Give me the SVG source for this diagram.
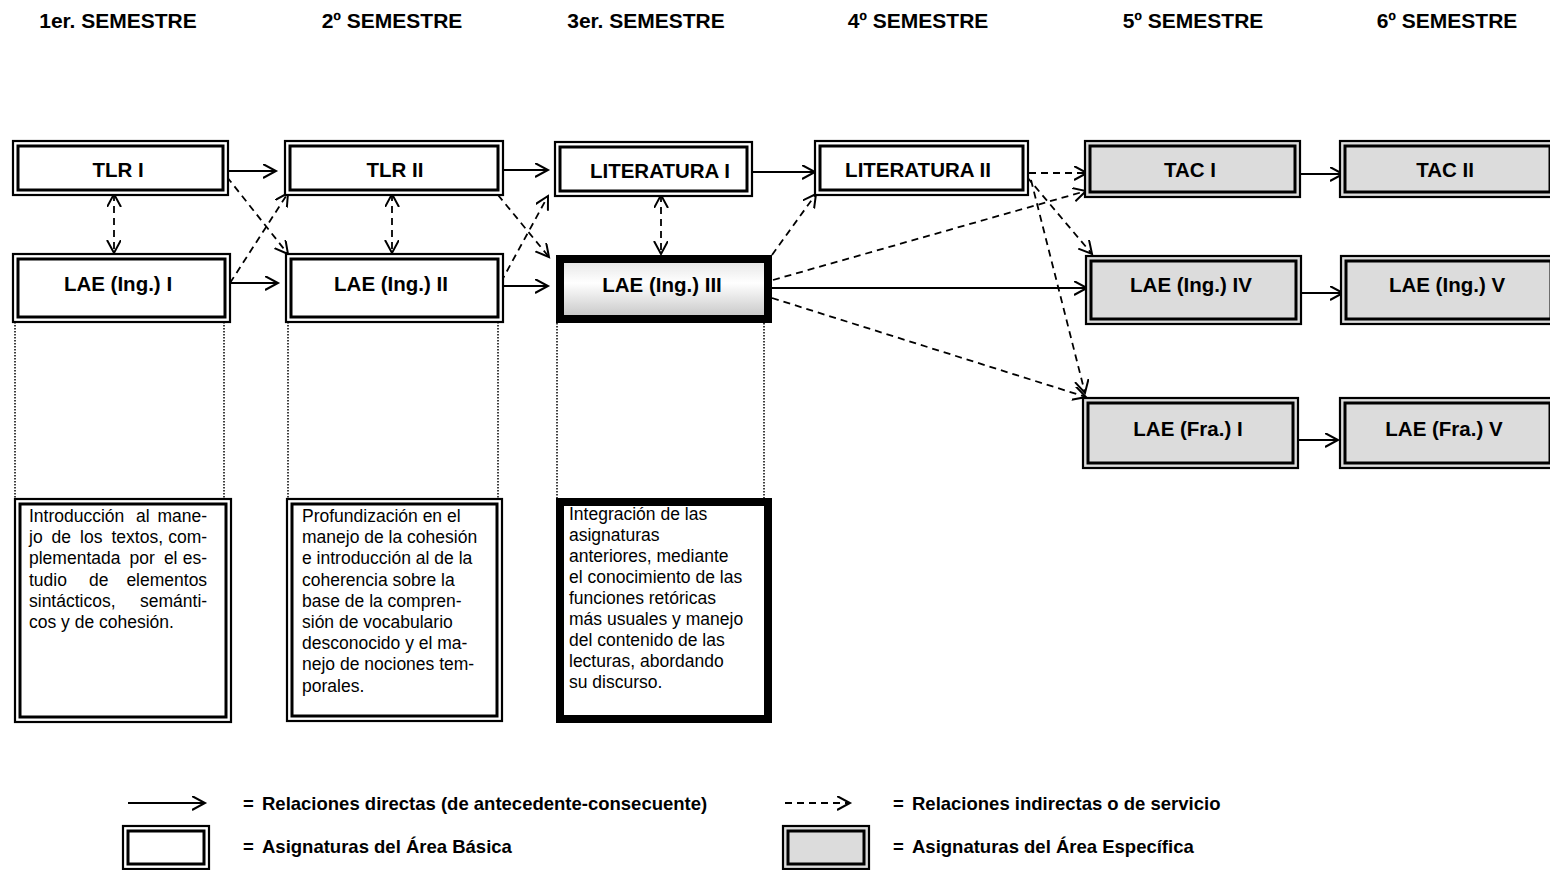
<svg xmlns="http://www.w3.org/2000/svg" width="1550" height="870" viewBox="0 0 1550 870">
<style>
.hdr{font-family:"Liberation Sans",Arial,sans-serif;font-weight:bold;font-size:21px;fill:#000;text-anchor:middle}
.lbl{font-family:"Liberation Sans",Arial,sans-serif;font-weight:bold;font-size:20.5px;fill:#000;text-anchor:middle}
.body{font-family:"Liberation Sans",Arial,sans-serif;font-size:17.5px;fill:#000}
.leg{font-family:"Liberation Sans",Arial,sans-serif;font-weight:bold;font-size:18.5px;fill:#000}
.o{fill:#fff;stroke:#000;stroke-width:2.2}
.og{fill:#dcdcdc;stroke:#000;stroke-width:2.2}
.i{fill:none;stroke:#000;stroke-width:3}
.thick{stroke:#000;stroke-width:8}
.sol{fill:none;stroke:#000;stroke-width:1.8;marker-end:url(#ah)}
.das{fill:none;stroke:#000;stroke-width:1.8;stroke-dasharray:7 5;marker-end:url(#ah)}
.bi{fill:none;stroke:#000;stroke-width:1.8;stroke-dasharray:7 5;marker-end:url(#ah);marker-start:url(#ah)}
.dot{fill:none;stroke:#000;stroke-width:1.5;stroke-dasharray:1.5 1.5}
.e{text-anchor:end}
</style>
<defs>
<marker id="ah" markerUnits="userSpaceOnUse" markerWidth="16" markerHeight="16" refX="13" refY="7" orient="auto-start-reverse" viewBox="0 0 16 16">
<path d="M0,0 L13,7 L0,14" fill="none" stroke="#000" stroke-width="2"/>
</marker>
<linearGradient id="gr" x1="0" y1="0" x2="0" y2="1">
<stop offset="0" stop-color="#e4e4e4"/>
<stop offset="0.4" stop-color="#ffffff"/>
<stop offset="1" stop-color="#c4c4c4"/>
</linearGradient>
</defs>
<rect width="1550" height="870" fill="#fff"/>

<g id="headers">
<text class="hdr" x="118" y="28">1er. SEMESTRE</text>
<text class="hdr" x="392" y="28">2º SEMESTRE</text>
<text class="hdr" x="646" y="28">3er. SEMESTRE</text>
<text class="hdr" x="918" y="28">4º SEMESTRE</text>
<text class="hdr" x="1193" y="28">5º SEMESTRE</text>
<text class="hdr" x="1447" y="28">6º SEMESTRE</text>
</g>

<g id="connectors">
<path class="sol" d="M228,171 L276,171"/>
<path class="sol" d="M231,283 L278,283"/>
<path class="sol" d="M503,170 L548,170"/>
<path class="sol" d="M503,286 L548,286"/>
<path class="sol" d="M752,172 L815,172"/>
<path class="sol" d="M772,288 L1087,288"/>
<path class="sol" d="M1300,174 L1343,174"/>
<path class="sol" d="M1301,293 L1343,293"/>
<path class="sol" d="M1298,440 L1338,440"/>
<path class="bi" d="M114,194 L114,253"/>
<path class="bi" d="M392,194 L392,253"/>
<path class="bi" d="M661,195 L661,254"/>
<path class="das" d="M227,177 L288,254"/>
<path class="das" d="M230,283 L288,193"/>
<path class="das" d="M498,195 L549,257"/>
<path class="das" d="M501,282 L548,196"/>
<path class="das" d="M772,255 L816,194"/>
<path class="das" d="M1029,173 L1087,173"/>
<path class="das" d="M773,280 L1086,191"/>
<path class="das" d="M1027,177 L1092,254"/>
<path class="das" d="M1031,180 L1085,393"/>
<path class="das" d="M772,298 L1086,397"/>
</g>

<g id="tlr1"><rect class="o" x="13" y="141" width="215" height="54"/><rect class="i" x="18" y="146" width="205" height="44"/><text class="lbl" x="118" y="177">TLR I</text></g>
<g id="tlr2"><rect class="o" x="285" y="141" width="218" height="54"/><rect class="i" x="290" y="146" width="208" height="44"/><text class="lbl" x="395" y="177">TLR II</text></g>
<g id="lit1"><rect class="o" x="555" y="142" width="197" height="54"/><rect class="i" x="560" y="147" width="187" height="44"/><text class="lbl" x="660" y="178">LITERATURA I</text></g>
<g id="lit2"><rect class="o" x="815" y="141" width="213" height="54"/><rect class="i" x="820" y="146" width="203" height="44"/><text class="lbl" x="918" y="177">LITERATURA II</text></g>
<g id="tac1"><rect class="og" x="1085" y="141" width="215" height="56"/><rect class="i" x="1090" y="146" width="205" height="46"/><text class="lbl" x="1190" y="177">TAC I</text></g>
<g id="tac2"><rect class="og" x="1340" y="141" width="215" height="56"/><rect class="i" x="1345" y="146" width="205" height="46"/><text class="lbl" x="1445" y="177">TAC II</text></g>

<g id="lae1"><rect class="o" x="13" y="254" width="217" height="68"/><rect class="i" x="18" y="259" width="207" height="58"/><text class="lbl" x="118" y="291">LAE (Ing.) I</text></g>
<g id="lae2"><rect class="o" x="286" y="254" width="217" height="68"/><rect class="i" x="291" y="259" width="207" height="58"/><text class="lbl" x="391" y="291">LAE (Ing.) II</text></g>
<g id="lae3"><rect x="560" y="259" width="208" height="60" fill="url(#gr)" class="thick"/><text class="lbl" x="662" y="292">LAE (Ing.) III</text></g>
<g id="lae4"><rect class="og" x="1086" y="256" width="215" height="68"/><rect class="i" x="1091" y="261" width="205" height="58"/><text class="lbl" x="1191" y="292">LAE (Ing.) IV</text></g>
<g id="lae5"><rect class="og" x="1341" y="256" width="215" height="68"/><rect class="i" x="1346" y="261" width="205" height="58"/><text class="lbl" x="1447" y="292">LAE (Ing.) V</text></g>
<g id="fra1"><rect class="og" x="1083" y="398" width="215" height="70"/><rect class="i" x="1088" y="403" width="205" height="60"/><text class="lbl" x="1188" y="436">LAE (Fra.) I</text></g>
<g id="fra5"><rect class="og" x="1340" y="398" width="215" height="70"/><rect class="i" x="1345" y="403" width="205" height="60"/><text class="lbl" x="1444" y="436">LAE (Fra.) V</text></g>

<g id="dotted">
<path class="dot" d="M15,322 V499 M224,322 V499 M288,322 V499 M498,322 V499 M557,323 V499 M764,323 V499"/>
</g>

<g id="desc1">
<rect class="o" x="15" y="499" width="216" height="223"/><rect class="i" x="20" y="504" width="206" height="213"/>
<text class="body">
<tspan x="29" y="522">Introducción</tspan><tspan x="136" y="522">al</tspan><tspan class="e" x="212" y="522">mane-</tspan>
<tspan x="29" y="543.2">jo</tspan><tspan x="51.6" y="543.2">de</tspan><tspan x="80.1" y="543.2">los</tspan><tspan x="111.5" y="543.2">textos,</tspan><tspan class="e" x="212" y="543.2">com-</tspan>
<tspan x="29" y="564.4">plementada</tspan><tspan x="129.5" y="564.4">por</tspan><tspan x="163.9" y="564.4">el</tspan><tspan class="e" x="212" y="564.4">es-</tspan>
<tspan x="29" y="585.6">tudio</tspan><tspan x="89" y="585.6">de</tspan><tspan class="e" x="212" y="585.6">elementos</tspan>
<tspan x="29" y="606.8">sintácticos,</tspan><tspan class="e" x="212" y="606.8">semánti-</tspan>
<tspan x="29" y="628">cos y de cohesión.</tspan>
</text>
</g>
<g id="desc2">
<rect class="o" x="287" y="499" width="215" height="222"/><rect class="i" x="292" y="504" width="205" height="212"/>
<text class="body">
<tspan x="302" y="522">Profundización en el</tspan>
<tspan x="302" y="543.2">manejo de la cohesión</tspan>
<tspan x="302" y="564.4">e introducción al de la</tspan>
<tspan x="302" y="585.6">coherencia sobre la</tspan>
<tspan x="302" y="606.8">base de la compren-</tspan>
<tspan x="302" y="628">sión de vocabulario</tspan>
<tspan x="302" y="649.2">desconocido y el ma-</tspan>
<tspan x="302" y="670.4">nejo de nociones tem-</tspan>
<tspan x="302" y="691.6">porales.</tspan>
</text>
</g>
<g id="desc3">
<rect x="560" y="502" width="208" height="217" fill="#fff" class="thick"/>
<text class="body">
<tspan x="569" y="520">Integración de las</tspan>
<tspan x="569" y="541">asignaturas</tspan>
<tspan x="569" y="562">anteriores, mediante</tspan>
<tspan x="569" y="583">el conocimiento de las</tspan>
<tspan x="569" y="604">funciones retóricas</tspan>
<tspan x="569" y="625">más usuales y manejo</tspan>
<tspan x="569" y="646">del contenido de las</tspan>
<tspan x="569" y="667">lecturas, abordando</tspan>
<tspan x="569" y="688">su discurso.</tspan>
</text>
</g>

<g id="legend">
<path class="sol" d="M128,803 L205,803"/>
<text class="leg" x="243" y="810">=</text><text class="leg" x="262" y="810">Relaciones directas (de antecedente-consecuente)</text>
<path class="das" d="M785,803 L850,803"/>
<text class="leg" x="893" y="810">=</text><text class="leg" x="912" y="810">Relaciones indirectas o de servicio</text>
<rect class="o" x="123" y="826" width="86" height="43"/><rect class="i" x="128" y="831" width="76" height="33"/>
<text class="leg" x="243" y="853">=</text><text class="leg" x="262" y="853">Asignaturas del Área Básica</text>
<rect class="og" x="783" y="826" width="86" height="43"/><rect class="i" x="788" y="831" width="76" height="33"/>
<text class="leg" x="893" y="853">=</text><text class="leg" x="912" y="853">Asignaturas del Área Específica</text>
</g>
</svg>
